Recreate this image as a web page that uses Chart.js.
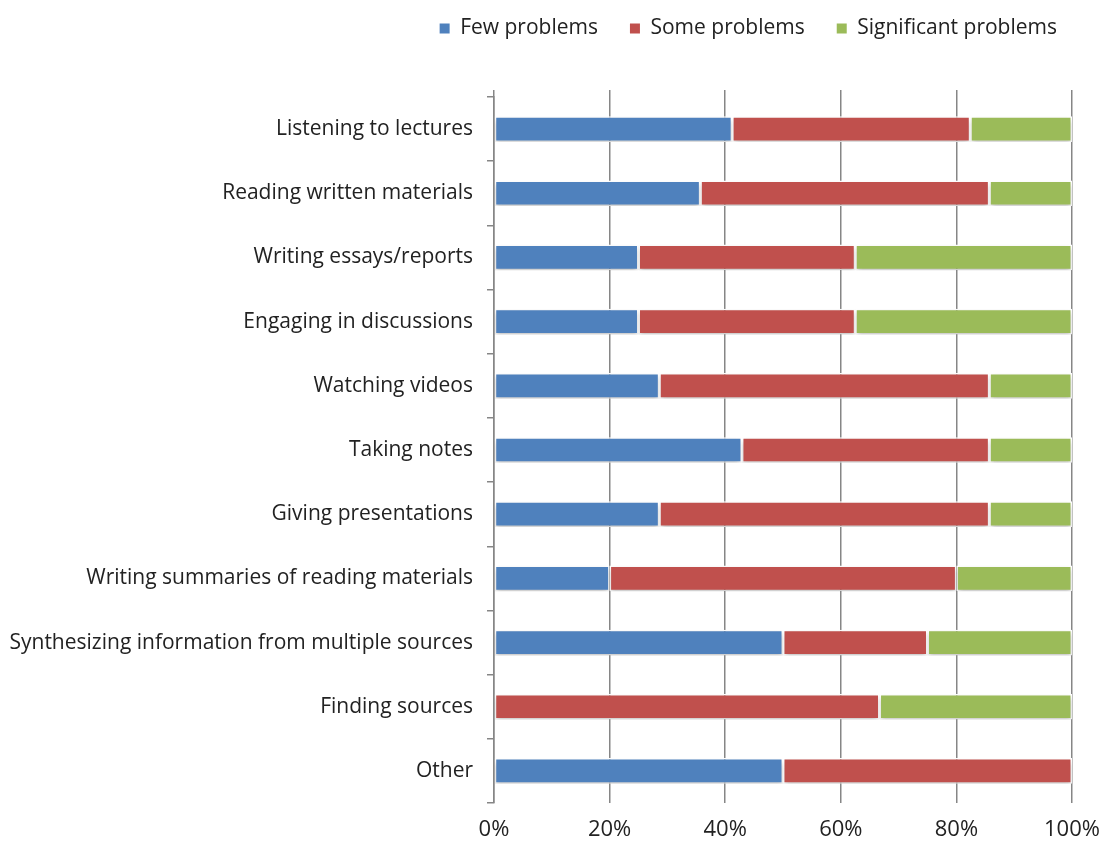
<!DOCTYPE html>
<html>
<head>
<meta charset="utf-8">
<script src="https://cdn.jsdelivr.net/npm/chart.js@4/dist/chart.umd.min.js"></script>
<style>
    html, body { margin: 0; padding: 0; background: #ffffff; }
    #chart { display: block; }
</style>
</head>
<body>
<canvas id="chart" width="1105" height="849"></canvas>
<script>
const categories = [
    'Listening to lectures',
    'Reading written materials',
    'Writing essays/reports',
    'Engaging in discussions',
    'Watching videos',
    'Taking notes',
    'Giving presentations',
    'Writing summaries of reading materials',
    'Synthesizing information from multiple sources',
    'Finding sources',
    'Other'
];

const fewProblems = [41.2, 35.7, 25, 25, 28.6, 42.9, 28.6, 20, 50, 0, 50];
const someProblems = [41.2, 50, 37.5, 37.5, 57.1, 42.8, 57.1, 60, 25, 66.7, 50];
const significantProblems = [17.6, 14.3, 37.5, 37.5, 14.3, 14.3, 14.3, 20, 25, 33.3, 0];

const xTicks = [0, 20, 40, 60, 80, 100];

const FONT = 'Open Sans';
const GRID = '#868686';
const TEXT = '#222222';

// legend row sits high, the plot starts well below it
const legendSpacing = {
    id: 'legendSpacing',
    beforeInit(chart) {
        const originalFit = chart.legend.fit;
        chart.legend.fit = function fit() {
            originalFit.bind(chart.legend)();
            this.height = 104;
        };
    }
};

const barShadow = {
    id: 'barShadow',
    beforeDatasetsDraw(chart) {
        const ctx = chart.ctx;
        ctx.save();
        ctx.shadowColor = 'rgba(0, 0, 0, 0.22)';
        ctx.shadowBlur = 5;
        ctx.shadowOffsetY = 3;
    },
    afterDatasetsDraw(chart) {
        chart.ctx.restore();
    }
};

function dataset(label, data, color) {
    return {
        label,
        data,
        backgroundColor: color,
        borderColor: '#ffffff',
        borderWidth: 1.5,
        borderSkipped: false,
        barPercentage: 0.4,
        categoryPercentage: 1
    };
}

new Chart(document.getElementById('chart').getContext('2d'), {
    type: 'bar',
    data: {
        labels: categories,
        datasets: [
            dataset('Few problems', fewProblems, '#4F81BD'),
            dataset('Some problems', someProblems, '#C0504D'),
            dataset('Significant problems', significantProblems, '#9BBB59')
        ]
    },
    options: {
        indexAxis: 'y',
        responsive: false,
        animation: false,
        layout: {
            padding: { top: -14, right: 16, bottom: 6, left: 0 }
        },
        plugins: {
            legend: {
                position: 'top',
                align: 'end',
                labels: {
                    boxWidth: 10,
                    boxHeight: 10,
                    padding: 32,
                    color: TEXT,
                    font: { family: FONT, size: 21 },
                    generateLabels: (chart) => Chart.defaults.plugins.legend.labels
                        .generateLabels(chart)
                        .map((item) => ({ ...item, lineWidth: 0 }))
                }
            },
            tooltip: { enabled: false }
        },
        scales: {
            x: {
                stacked: true,
                min: 0,
                max: 100,
                afterBuildTicks: (axis) => {
                    axis.ticks = xTicks.map((value) => ({ value }));
                },
                afterFit: (axis) => {
                    axis.height = 40;
                    axis.paddingRight = 33;
                },
                ticks: {
                    padding: 14,
                    color: TEXT,
                    font: { family: FONT, size: 22 },
                    callback: (value) => `${value}%`
                },
                grid: {
                    color: GRID,
                    lineWidth: 1.5,
                    drawTicks: false
                },
                border: { display: false }
            },
            x2: {
                position: 'top',
                min: 0,
                max: 100,
                afterBuildTicks: (axis) => {
                    axis.ticks = xTicks.map((value) => ({ value }));
                },
                afterFit: (axis) => {
                    axis.height = 7;
                    axis.paddingRight = 33;
                },
                ticks: { display: false },
                grid: {
                    color: GRID,
                    lineWidth: 1.5,
                    drawOnChartArea: false,
                    tickLength: 7
                },
                border: { display: false }
            },
            y: {
                stacked: true,
                afterFit: (axis) => {
                    axis.width = 494;
                },
                ticks: {
                    padding: 14,
                    color: TEXT,
                    font: { family: FONT, size: 21 }
                },
                grid: {
                    offset: true,
                    color: GRID,
                    lineWidth: 1.5,
                    drawOnChartArea: false,
                    tickLength: 7
                },
                border: {
                    display: true,
                    color: GRID,
                    width: 1.5
                }
            }
        }
    },
    plugins: [legendSpacing, barShadow]
});
</script>
</body>
</html>
